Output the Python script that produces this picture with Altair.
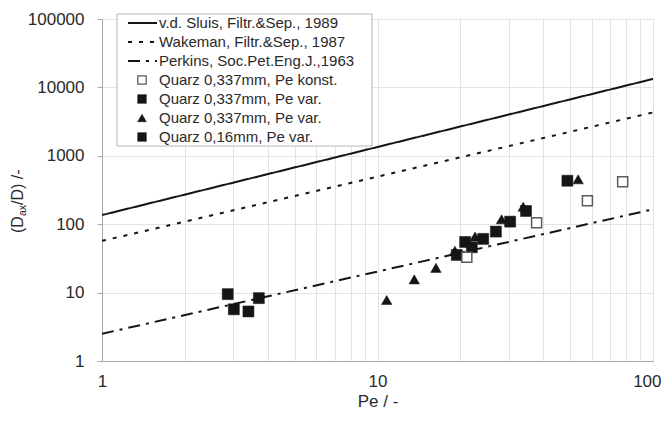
import altair as alt
import pandas as pd

# ---------------- data ----------------
pe_line = [1, 100]
sluis = [136, 13300]
wakeman = [57, 4300]
perkins = [2.5, 165]

pe_open = [21.1, 37.8, 57.8, 77.6]
d_open = [32.8, 105, 221, 418]

pe_sq337 = [19.4, 20.8, 22.0, 24.2, 26.9, 30.3, 34.6, 48.9]
d_sq337 = [35.5, 55, 46, 61, 78, 109, 156, 432]

pe_tri = [10.8, 13.6, 16.3, 19.1, 22.6, 28.2, 33.8, 53.5]
d_tri = [7.8, 15.6, 23, 41, 66, 118, 180, 453]

pe_sq016 = [2.86, 3.01, 3.40, 3.71]
d_sq016 = [9.5, 5.7, 5.3, 8.3]

legend_labels = [
    "v.d. Sluis, Filtr.&Sep., 1989",
    "Wakeman, Filtr.&Sep., 1987",
    "Perkins, Soc.Pet.Eng.J.,1963",
    "Quarz 0,337mm, Pe konst.",
    "Quarz 0,337mm, Pe var.",
    "Quarz 0,337mm, Pe var.",
    "Quarz 0,16mm, Pe var.",
]

x_grid = [1, 2, 3, 4, 5, 6, 7, 8, 9, 10, 20, 30, 40, 50, 60, 70, 80, 90, 100]
x_labels = [1, 10, 100]
y_ticks = [1, 10, 100, 1000, 10000, 100000]
x_title = "Pe / -"
y_title_parts = ["(D", "ax", "/D) /-"]

# ---------------- styling ----------------
FONT = "Liberation Sans"
TXT = "#2a2a2a"
FRAME = "#a9a9a9"
GRID = "#e3e3e3"
INK = "#151515"

label_test = " || ".join(f"datum.value == {v}" for v in x_labels)
last_x = x_labels[-1]

x_enc = alt.X(
    "pe:Q",
    scale=alt.Scale(type="log", domain=[1, 100], nice=False),
    axis=alt.Axis(
        values=x_grid,
        labelExpr=f"({label_test}) ? format(datum.value, 'd') : ''",
        ticks=False,
        labelPadding=12,
        labelAlign={"condition": {"test": f"datum.value == {last_x}", "value": "right"}, "value": "center"},
        labelOffset={"condition": {"test": f"datum.value == {last_x}", "value": 8}, "value": 0},
        title=x_title,
        titlePadding=4,
        labelFlush=False,
        labelOverlap=False,
    ),
)
y_enc = alt.Y(
    "d:Q",
    scale=alt.Scale(type="log", domain=[1, 100000], nice=False),
    axis=alt.Axis(
        values=y_ticks,
        format="d",
        ticks=True,
        tickSize=5,
        labelPadding=13,
        title=None,
        labelFlush=False,
        labelOverlap=False,
    ),
)


def line_layer(vals, dash):
    df = pd.DataFrame({"pe": pe_line, "d": vals})
    return alt.Chart(df).mark_line(
        color=INK, strokeWidth=2, strokeDash=dash, clip=True
    ).encode(x=x_enc, y=y_enc)


def point_layer(pe, d, shape, filled, size):
    df = pd.DataFrame({"pe": pe, "d": d})
    if filled:
        mk = alt.Chart(df).mark_point(
            shape=shape, filled=True, fill=INK, stroke=INK, strokeWidth=0.5,
            size=size, opacity=1,
        )
    else:
        mk = alt.Chart(df).mark_point(
            shape=shape, filled=False, fill="white", fillOpacity=1,
            stroke="#5a5a5a", strokeWidth=1.5, size=size, opacity=1,
        )
    return mk.encode(x=x_enc, y=y_enc)


one = pd.DataFrame({"k": [0]})

layers = [
    line_layer(sluis, [1, 0]),
    line_layer(wakeman, [4, 7]),
    line_layer(perkins, [12, 6, 3, 6]),
    point_layer(pe_sq016, d_sq016, "square", True, 121),
    point_layer(pe_tri, d_tri, "triangle-up", True, 110),
    point_layer(pe_sq337, d_sq337, "square", True, 121),
    point_layer(pe_open, d_open, "square", False, 100),
]

# legend box
layers.append(
    alt.Chart(one).mark_rect(fill="white", stroke="#b5b5b5", strokeWidth=1).encode(
        x=alt.value(15), x2=alt.value(270), y=alt.value(-5), y2=alt.value(127)
    )
)

row_y = [4 + 19 * i for i in range(len(legend_labels))]

# legend line symbols
for i, dash in enumerate([[1, 0], [4, 7], [12, 6, 3, 6]]):
    layers.append(
        alt.Chart(one).mark_rule(color=INK, strokeWidth=2, strokeDash=dash).encode(
            x=alt.value(26), x2=alt.value(55), y=alt.value(row_y[i])
        )
    )

# legend point symbols
sym_specs = [("square", False), ("square", True), ("triangle-up", True), ("square", True)]
for j, (shape, filled) in enumerate(sym_specs):
    i = j + 3
    if filled:
        mk = alt.Chart(one).mark_point(shape=shape, filled=True, fill=INK, stroke=INK,
                                       strokeWidth=0.5, size=75, opacity=1)
    else:
        mk = alt.Chart(one).mark_point(shape=shape, filled=False, fill="white", fillOpacity=1,
                                       stroke="#5a5a5a", strokeWidth=1.3, size=70, opacity=1)
    layers.append(mk.encode(x=alt.value(40), y=alt.value(row_y[i])))

# legend texts
for i, lab in enumerate(legend_labels):
    layers.append(
        alt.Chart(one).mark_text(
            align="left", baseline="middle", font=FONT, fontSize=15, color=TXT
        ).encode(x=alt.value(57), y=alt.value(row_y[i]), text=alt.value(lab))
    )

# y-axis title with subscript, drawn as rotated text
y_positions = [214, 197, 186]
x_positions = [-84, -79, -84]
sizes = [16, 10.5, 16]
for part, yy, xx, fs in zip(y_title_parts, y_positions, x_positions, sizes):
    layers.append(
        alt.Chart(one).mark_text(
            align="left", baseline="middle", angle=270, font=FONT, fontSize=fs, color=TXT
        ).encode(x=alt.value(xx), y=alt.value(yy), text=alt.value(part))
    )

chart = alt.layer(*layers).properties(
    width=551,
    height=342,
    background="white",
    autosize=alt.AutoSizeParams(type="none"),
    padding={"left": 94, "top": 11, "right": 8, "bottom": 54},
).configure_view(
    stroke=FRAME, strokeWidth=1
).configure_axis(
    domainColor=FRAME,
    tickColor=FRAME,
    gridColor=GRID,
    grid=True,
    labelFont=FONT,
    labelFontSize=17,
    labelColor=TXT,
    titleFont=FONT,
    titleFontSize=17,
    titleColor=TXT,
    titleFontWeight="normal",
)

chart.save("out.html", embed_options={"renderer": "svg", "actions": False})
